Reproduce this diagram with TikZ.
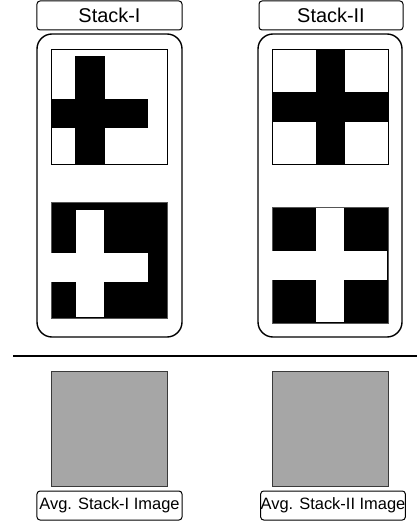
\documentclass[tikz,border=0pt]{standalone}
\usepackage{fontspec}
\setmainfont{Liberation Sans}
\usetikzlibrary{positioning, backgrounds}
\usepackage{xcolor}
\definecolor{avgCol}{HTML}{A6A6A6}
\definecolor{rimCol}{HTML}{3A3A3A}
\definecolor{edgeCol}{HTML}{555555}

\begin{document}
\begin{tikzpicture}[
    x=1bp, y=-1bp,
    tag/.style={rectangle, draw=black, rounded corners=3bp, line width=1bp, minimum width=145bp, minimum height=29bp, inner sep=0pt, font=\fontsize{20}{23}\selectfont},
    avgtag/.style={tag, font=\fontsize{16.5}{20}\selectfont},
    stackbox/.style={rectangle, draw=black, rounded corners=15bp, line width=1.4bp, minimum width=145bp, minimum height=303bp, inner sep=0pt},
    img/.style={rectangle, draw=black, line width=0.8bp, minimum width=116bp, minimum height=115bp, inner sep=0pt},
    avg/.style={img, fill=avgCol, draw=rimCol}
]
\useasboundingbox (0,0) rectangle (417,522);

% =====================================================================
% STACK LABELS
% =====================================================================
\node[tag] (T1) at (109.5,15.5) {Stack-I};
\node[tag, minimum width=144bp] (T2) at (331,15.5) {Stack-II};

% =====================================================================
% STACK FRAMES
% =====================================================================
\node[stackbox] (S1) at (109.5,185.5) {};
\node[stackbox, minimum width=144bp] (S2) at (330,185.5) {};

% =====================================================================
% STACK IMAGES
% =====================================================================
% 1. Stack-I, off-centre cross
\node[img] (I1) at (109,106.5) {};
\begin{scope}[shift={(I1.north west)}]
    \fill (24,7) rectangle (54,115);
    \fill (0,50) rectangle (97,79);
\end{scope}

\node[img, fill=black, draw=edgeCol, minimum height=116bp] (I2) at (109,260) {};
\begin{scope}[shift={(I2.north west)}]
    \fill[white] (25,8) rectangle (53,115.5);
    \fill[white] (0.5,51) rectangle (97,80);
\end{scope}

% 2. Stack-II, centred cross
\node[img] (I3) at (330,106.5) {};
\begin{scope}[shift={(I3.north west)}]
    \fill (44,0) rectangle (73,115);
    \fill (0,43) rectangle (116,73);
\end{scope}

\node[img, fill=black, draw=edgeCol, minimum height=116bp] (I4) at (330,265) {};
\begin{scope}[shift={(I4.north west)}]
    \fill[white] (44,1) rectangle (72,115.5);
    \fill[white] (0.5,44) rectangle (115.5,73);
\end{scope}

% =====================================================================
% DIVIDER
% =====================================================================
\coordinate (divL) at (13,356);
\coordinate (divR) at (417,356);
\draw[line width=2bp] (divL) -- (divR);

% =====================================================================
% AVERAGE IMAGES
% =====================================================================
\node[avg] (A1) at (109,428.5) {};
\node[avg] (A2) at (330,428.5) {};

\node[avgtag] (L1) at (109.5,505.5) {Avg. Stack-I Image};
\node[avgtag, minimum width=142bp] (L2) at (333,505.5) {Avg. Stack-II Image};

\end{tikzpicture}
\end{document}
